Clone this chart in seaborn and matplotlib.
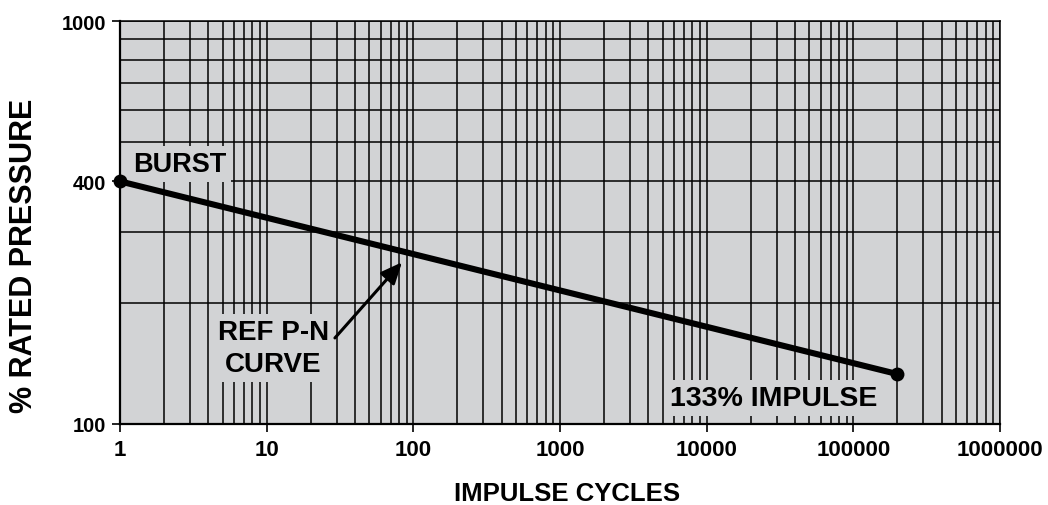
import matplotlib
matplotlib.use("Agg")
import matplotlib.pyplot as plt
import matplotlib.ticker as mticker
import seaborn as sns
import pandas as pd

# P-N curve end points: burst at 1 cycle, 133% impulse at 200,000 cycles
cycles = [1, 200000]
pressure = [400, 133]
point_labels = ["BURST", "133% IMPULSE"]
curve_label = ["REF P-N", "CURVE"]

x_ticks = [1, 10, 100, 1000, 10000, 100000, 1000000]
y_ticks = [100, 400, 1000]

sns.set_theme(style="white")
plt.rcParams["font.family"] = ["Liberation Sans", "DejaVu Sans"]
plt.rcParams["font.weight"] = "bold"
plt.rcParams["text.color"] = "black"
plt.rcParams["axes.labelcolor"] = "black"
plt.rcParams["xtick.color"] = "black"
plt.rcParams["ytick.color"] = "black"

bg = "#d2d3d5"
fig = plt.figure(figsize=(10.48, 5.06), dpi=100)
ax = fig.add_axes([120 / 1048, 81 / 506, 880 / 1048, 403 / 506])
ax.set_facecolor(bg)

df = pd.DataFrame({"cycles": cycles, "pressure": pressure})
sns.lineplot(data=df, x="cycles", y="pressure", ax=ax, color="black",
             linewidth=4.4, marker="o", markersize=10, markeredgewidth=0,
             clip_on=False, zorder=5)

ax.set_xscale("log")
ax.set_yscale("log")
ax.set_xlim(1, 1e6)
ax.set_ylim(100, 1000)

ax.xaxis.set_major_locator(mticker.FixedLocator(x_ticks))
ax.xaxis.set_major_formatter(mticker.FixedFormatter([str(v) for v in x_ticks]))
ax.xaxis.set_minor_locator(mticker.LogLocator(base=10, subs=range(2, 10), numticks=20))
ax.yaxis.set_major_locator(mticker.FixedLocator(y_ticks))
ax.yaxis.set_major_formatter(mticker.FixedFormatter([str(v) for v in y_ticks]))
ax.yaxis.set_minor_locator(mticker.FixedLocator([200, 300, 500, 600, 700, 800, 900]))
ax.xaxis.set_minor_formatter(mticker.NullFormatter())
ax.yaxis.set_minor_formatter(mticker.NullFormatter())

ax.grid(True, which="both", color="black", linewidth=1.1)
ax.set_axisbelow(True)

ax.tick_params(axis="both", which="major", length=6, width=1.2, color="black",
               labelcolor="black", direction="out")
ax.tick_params(axis="x", which="major", labelsize=16, pad=5, bottom=True)
ax.tick_params(axis="y", which="major", labelsize=14.5, pad=4, left=True)
ax.tick_params(axis="both", which="minor", length=0)
for lab in ax.get_xticklabels() + ax.get_yticklabels():
    lab.set_fontweight("bold")

for side in ["left", "bottom"]:
    ax.spines[side].set_color("black")
    ax.spines[side].set_linewidth(1.6)
for side in ["top", "right"]:
    ax.spines[side].set_color("black")
    ax.spines[side].set_linewidth(1.1)

ax.set_xlabel("IMPULSE CYCLES", fontsize=18.5, fontweight="bold", color="black")
ax.set_ylabel("% RATED PRESSURE", fontsize=22, fontweight="bold", color="black")
ax.xaxis.set_label_coords(0.508, -0.142)
ax.yaxis.set_label_coords(-0.092, 0.42)

box = dict(facecolor=bg, edgecolor="none", pad=3.5)
ax.text(0.0148, 0.628, point_labels[0], transform=ax.transAxes,
        fontsize=19.5, fontweight="bold", color="black",
        ha="left", va="baseline", bbox=box, zorder=4)
ax.text(0.174, 0.211, curve_label[0], transform=ax.transAxes,
        fontsize=20, fontweight="bold", color="black",
        ha="center", va="baseline", bbox=box, zorder=4)
ax.text(0.174, 0.132, curve_label[1], transform=ax.transAxes,
        fontsize=20, fontweight="bold", color="black",
        ha="center", va="baseline", bbox=box, zorder=4)
ax.text(0.7426, 0.047, point_labels[1], transform=ax.transAxes,
        fontsize=20.5, fontweight="bold", color="black",
        ha="center", va="baseline", bbox=box, zorder=4)

ax.annotate("", xy=(83.7, 252), xytext=(29.2, 163.5),
            arrowprops=dict(arrowstyle="-|>,head_length=0.5,head_width=0.22",
                            color="black", lw=2.2, mutation_scale=26,
                            shrinkA=0, shrinkB=0),
            zorder=6)

fig.savefig("out.png", dpi=100, facecolor="white")
